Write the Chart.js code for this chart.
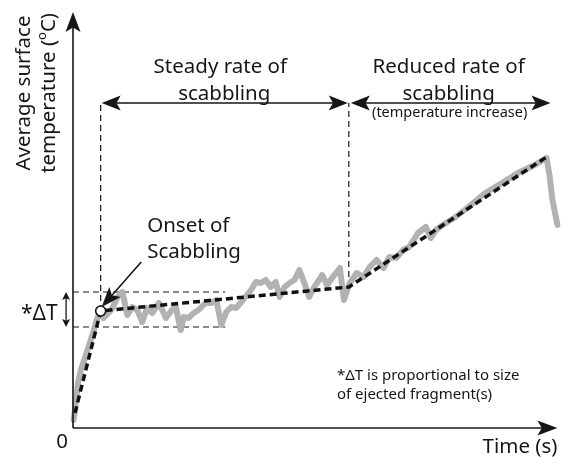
<!DOCTYPE html>
<html>
<head>
<meta charset="utf-8">
<script src="https://cdn.jsdelivr.net/npm/chart.js@4/dist/chart.umd.min.js"></script>
<style>
  html, body { margin: 0; padding: 0; background: #fff; }
  #wrap { width: 564px; height: 457px; position: relative; }
</style>
</head>
<body>
<div id="wrap"><canvas id="c" width="564" height="457"></canvas></div>
<script>
// Measured surface temperature trace (arbitrary time / temperature units)
const traceTime = [0.5, 2, 5, 8, 12, 19, 24, 27, 31, 34, 40, 45, 50, 55, 60, 65, 70, 75, 80, 87, 94, 100, 104, 109, 112, 117, 122, 127, 134, 140, 145, 150, 155, 160, 165, 172, 180, 185, 190, 195, 200, 205, 209, 214, 219, 224, 229, 234, 239, 244, 249, 252, 257, 262, 267, 270, 274, 280, 287, 294, 300, 307, 314, 320, 327, 334, 340, 349, 357, 362, 367, 374, 387, 400, 417, 434, 450, 467, 479, 482, 485, 490];
const traceTemp = [8, 18, 45, 58, 70, 91, 108, 116, 110, 113, 120, 131, 136, 113, 121, 118, 106, 120, 115, 125, 110, 118, 121, 98, 111, 110, 115, 118, 125, 125, 128, 103, 116, 121, 120, 128, 138, 146, 145, 148, 141, 146, 131, 141, 145, 148, 158, 145, 131, 141, 148, 153, 143, 150, 156, 160, 128, 145, 155, 151, 161, 168, 160, 171, 170, 178, 181, 195, 201, 190, 198, 203, 211, 221, 235, 245, 255, 263, 270, 253, 228, 203];

// Piecewise linear idealisation of the trace
const fitTime = [2, 28, 279, 479];
const fitTemp = [15, 117, 141, 271];

// Onset of scabbling
const onsetTime = [28];
const onsetTemp = [117];

// Band showing the temperature drop ΔT
const deltaTLow = 101;
const deltaTHigh = 136;
const deltaTBandEnd = 154;

// Regime boundaries and arrow level
const regimeStart = 28;
const regimeChange = 279;
const regimeEnd = 483;
const regimeArrowTemp = 325;

// Axis extents
const timeMax = 490;
const tempMax = 416;

const toPts = (xs, ys) => xs.map((x, i) => ({ x: x, y: ys[i] }));

const FONT = '"Noto Sans", "Open Sans", sans-serif';
const INK = '#161616';

function arrowHead(ctx, x1, y1, x2, y2, len, half) {
  const a = Math.atan2(y2 - y1, x2 - x1);
  const c = Math.cos(a), s = Math.sin(a);
  const bx = x2 - c * len, by = y2 - s * len;
  const nx = x2 - c * len * 0.78, ny = y2 - s * len * 0.78;
  ctx.beginPath();
  ctx.moveTo(x2, y2);
  ctx.lineTo(bx - s * half, by + c * half);
  ctx.lineTo(nx, ny);
  ctx.lineTo(bx + s * half, by - c * half);
  ctx.closePath();
  ctx.fill();
}

function arrowLine(ctx, x1, y1, x2, y2, len, half, both) {
  const a = Math.atan2(y2 - y1, x2 - x1);
  const c = Math.cos(a), s = Math.sin(a);
  ctx.beginPath();
  ctx.moveTo(both ? x1 + c * len * 0.7 : x1, both ? y1 + s * len * 0.7 : y1);
  ctx.lineTo(x2 - c * len * 0.7, y2 - s * len * 0.7);
  ctx.stroke();
  arrowHead(ctx, x1, y1, x2, y2, len, half);
  if (both) arrowHead(ctx, x2, y2, x1, y1, len, half);
}

const annotations = {
  id: 'annotations',
  afterDatasetsDraw(chart) {
    const ctx = chart.ctx;
    const xs = chart.scales.x, ys = chart.scales.y;
    const X = v => xs.getPixelForValue(v);
    const Y = v => ys.getPixelForValue(v);
    const area = chart.chartArea;
    ctx.save();
    ctx.fillStyle = INK;
    ctx.strokeStyle = INK;
    ctx.lineCap = 'butt';

    // Axes with arrowheads
    ctx.lineWidth = 1.6;
    arrowLine(ctx, X(0), Y(0), X(0), area.top, 20, 7.5, false);
    arrowLine(ctx, X(0), Y(0), area.right, Y(0), 20, 7.5, false);

    // Regime arrows
    ctx.lineWidth = 1.6;
    arrowLine(ctx, X(regimeStart) + 1, Y(regimeArrowTemp), X(regimeChange) - 1, Y(regimeArrowTemp), 19, 7.5, true);
    arrowLine(ctx, X(regimeChange) + 2, Y(regimeArrowTemp), X(regimeEnd), Y(regimeArrowTemp), 19, 7.5, true);

    // ΔT double arrow
    ctx.lineWidth = 1.3;
    arrowLine(ctx, X(-7), Y(deltaTHigh), X(-7), Y(deltaTLow), 8, 4, true);

    // Pointer to onset
    ctx.lineWidth = 1.6;
    arrowLine(ctx, X(69), Y(166), X(onsetTime[0] + 1), Y(onsetTemp[0] + 4), 20, 7.5, false);

    // Labels
    ctx.font = '20.5px ' + FONT;
    ctx.textBaseline = 'alphabetic';
    ctx.textAlign = 'center';
    ctx.fillText('Steady rate of', X(149), Y(355));
    ctx.fillText('scabbling', X(153), Y(328));
    ctx.fillText('Reduced rate of', X(380), Y(355));
    ctx.fillText('scabbling', X(380), Y(328));
    ctx.font = '14.5px ' + FONT;
    ctx.fillText('(temperature increase)', X(381), Y(311));

    ctx.font = '20.5px ' + FONT;
    ctx.textAlign = 'left';
    ctx.fillText('Onset of', X(75), Y(196));
    ctx.fillText('Scabbling', X(75), Y(170));
    ctx.font = '21px ' + FONT;
    ctx.fillText('*\u0394T', area.left - 52, Y(108));

    ctx.font = '20.5px ' + FONT;
    ctx.textAlign = 'center';
    ctx.fillText('0', area.left - 11, Y(0) + 20);
    ctx.textAlign = 'right';
    ctx.fillText('Time (s)', area.right, Y(0) + 25);

    ctx.font = '15px ' + FONT;
    ctx.textAlign = 'left';
    ctx.fillText('*\u0394T is proportional to size', X(267), Y(48));
    ctx.fillText('of ejected fragment(s)', X(267), Y(29));

    // Vertical axis title, two rotated lines
    ctx.save();
    ctx.translate(area.left - 49, (area.top + Y(0)) / 2 - 127);
    ctx.rotate(-Math.PI / 2);
    ctx.textAlign = 'center';
    ctx.textBaseline = 'middle';
    ctx.font = '20.5px ' + FONT;
    ctx.fillText('Average surface', 0, 0);
    const part1 = 'temperature (', sup = 'o', part2 = 'C)';
    const w1 = ctx.measureText(part1).width;
    const w3 = ctx.measureText(part2).width;
    ctx.font = '13px ' + FONT;
    const w2 = ctx.measureText(sup).width;
    const total = w1 + w2 + w3;
    const x0 = -total / 2;
    ctx.textAlign = 'left';
    ctx.font = '20.5px ' + FONT;
    ctx.fillText(part1, x0, 25);
    ctx.font = '13px ' + FONT;
    ctx.fillText(sup, x0 + w1, 18);
    ctx.font = '20.5px ' + FONT;
    ctx.fillText(part2, x0 + w1 + w2, 25);
    ctx.restore();

    ctx.restore();
  }
};

const guide = {
  type: 'line', borderColor: INK, borderWidth: 1.2, borderDash: [6, 4],
  pointRadius: 0, fill: false, tension: 0, order: 5
};

new Chart(document.getElementById('c'), {
  type: 'line',
  data: {
    datasets: [
      Object.assign({ data: toPts([regimeStart, regimeStart], [onsetTemp[0], regimeArrowTemp]) }, guide),
      Object.assign({ data: toPts([regimeChange, regimeChange], [fitTemp[2], regimeArrowTemp]) }, guide),
      Object.assign({ data: toPts([0, deltaTBandEnd], [deltaTHigh, deltaTHigh]) }, guide),
      Object.assign({ data: toPts([0, deltaTBandEnd], [deltaTLow, deltaTLow]) }, guide),
      {
        data: toPts(traceTime, traceTemp),
        borderColor: '#b2b2b2', borderWidth: 6, pointRadius: 0,
        borderJoinStyle: 'round', borderCapStyle: 'round', tension: 0, order: 3
      },
      {
        data: toPts(fitTime, fitTemp),
        borderColor: '#111', borderWidth: 3.5, borderDash: [7, 4],
        pointRadius: 0, tension: 0, order: 2
      },
      {
        data: toPts(onsetTime, onsetTemp),
        showLine: false, pointRadius: 5, pointBorderWidth: 1.6,
        pointBackgroundColor: '#fff', pointBorderColor: '#111', order: 1
      }
    ]
  },
  options: {
    responsive: false,
    animation: false,
    events: [],
    layout: { padding: { left: 73, top: 12, right: 1, bottom: 29 } },
    plugins: { legend: { display: false }, tooltip: { enabled: false } },
    scales: {
      x: { type: 'linear', min: 0, max: timeMax, display: false },
      y: { type: 'linear', min: 0, max: tempMax, display: false }
    },
    clip: false
  },
  plugins: [annotations]
});
</script>
</body>
</html>
